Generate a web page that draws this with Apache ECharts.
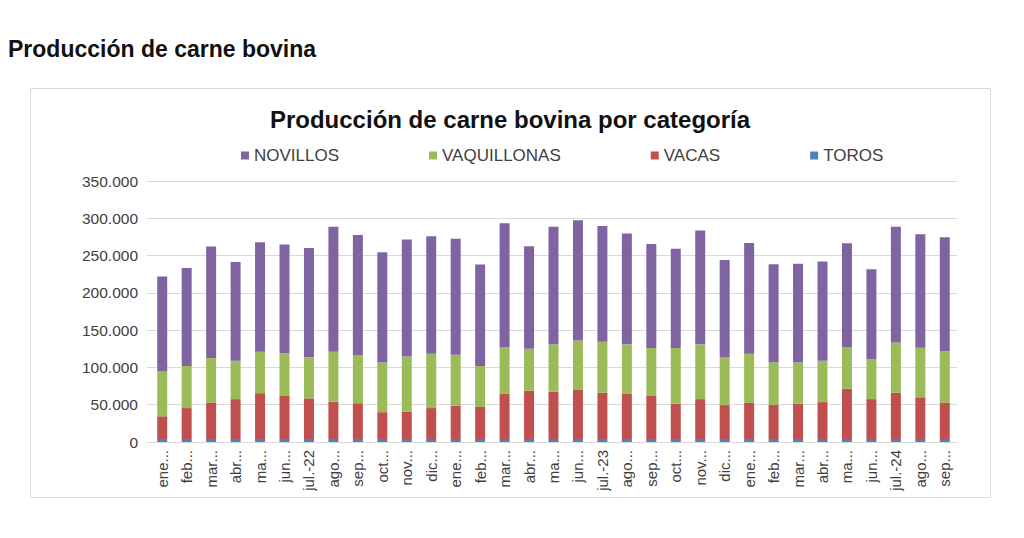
<!DOCTYPE html>
<html>
<head>
<meta charset="utf-8">
<script src="https://cdn.jsdelivr.net/npm/echarts@6/dist/echarts.min.js"></script>
<style>
html,body{margin:0;padding:0;background:#fff;}
#c{width:1024px;height:538px;}
</style>
</head>
<body>
<div id="c"></div>
<script>
const categories = ["ene...","feb...","mar...","abr...","ma...","jun...","jul.-22","ago...","sep...","oct...","nov...","dic...",
  "ene...","feb...","mar...","abr...","ma...","jun...","jul.-23","ago...","sep...","oct...","nov...","dic...",
  "ene...","feb...","mar...","abr...","ma...","jun...","jul.-24","ago...","sep..."];
const novillos = [127000,131500,149500,132500,147000,146000,146500,167500,161500,148000,157000,157500,
  155500,136000,166000,137500,157500,161500,155000,148500,139500,133000,152500,130000,
  148500,131500,132500,133000,139000,121000,155000,152000,152500];
const vaquillonas = [60500,56500,59500,51500,55500,56500,55000,67000,64000,66500,74000,73000,
  68500,55000,63000,56000,63500,65500,68500,66500,63500,74500,73500,64500,
  66000,57000,55000,55500,56000,53000,67500,66500,69000];
const vacas = [30500,41500,49000,53500,61500,58500,54500,50000,48000,36000,36500,41500,
  44500,43000,60500,65000,63500,66500,62000,60500,58500,47500,53500,45500,
  48500,46000,47500,49500,67500,53500,62000,56000,49000];
const toros = [4000,4000,4000,4000,4000,4000,4000,4000,4000,4000,4000,4000,
  4000,4000,4000,4000,4000,4000,4000,4000,4000,4000,4000,4000,
  4000,4000,4000,4000,4000,4000,4000,4000,4000];
const yTicks = [0,50000,100000,150000,200000,250000,300000,350000];

const FONT = "'Liberation Sans', Arial, sans-serif";
const chart = echarts.init(document.getElementById('c'), null, {renderer:'svg'});
function fmt(v){ return v === 0 ? '0' : String(v).replace(/\B(?=(\d{3})+(?!\d))/g, '.'); }
function bar(name, data, color){
  return {name, type:'bar', stack:'total', data, barWidth:10,
    itemStyle:{color}, emphasis:{disabled:true}};
}
chart.setOption({
  animation:false,
  backgroundColor:'#ffffff',
  graphic:[{type:'rect', left:30, top:88, shape:{width:960, height:409},
    style:{fill:'#fff', stroke:'#d9d9d9', lineWidth:1}, z:-1}],
  title:[
    {text:'Producción de carne bovina', left:3, top:32,
      textStyle:{fontFamily:FONT, fontSize:23, fontWeight:'bold', color:'#111'}},
    {text:'Producción de carne bovina por categoría', left:505, textAlign:'center', top:102,
      textStyle:{fontFamily:FONT, fontSize:24, fontWeight:'bold', color:'#111'}}
  ],
  legend:{
    data:['NOVILLOS','VAQUILLONAS','VACAS','TOROS'],
    left:236, top:142, icon:'rect', itemWidth:8, itemHeight:8, itemGap:90,
    textStyle:{fontFamily:FONT, fontSize:17, color:'#404040'}
  },
  grid:{left:150, right:67, top:181, bottom:96, containLabel:false},
  xAxis:{type:'category', data:categories,
    axisLine:{lineStyle:{color:'#d9d9d9'}}, axisTick:{show:false},
    axisLabel:{rotate:90, interval:0, fontFamily:FONT, fontSize:15, color:'#404040', margin:8}},
  yAxis:{type:'value', min:0, max:350000, interval:50000,
    axisLine:{show:false}, axisTick:{show:true, length:3, lineStyle:{color:'#d9d9d9'}},
    splitLine:{lineStyle:{color:'#d9d9d9'}},
    axisLabel:{fontFamily:FONT, fontSize:15.5, color:'#404040', margin:12,
      formatter:(v)=> yTicks.includes(v) ? fmt(v) : ''}},
  series:[
    bar('TOROS', toros, '#4F81BD'),
    bar('VACAS', vacas, '#C0504D'),
    bar('VAQUILLONAS', vaquillonas, '#9BBB59'),
    bar('NOVILLOS', novillos, '#8064A2')
  ]
});
</script>
</body>
</html>
